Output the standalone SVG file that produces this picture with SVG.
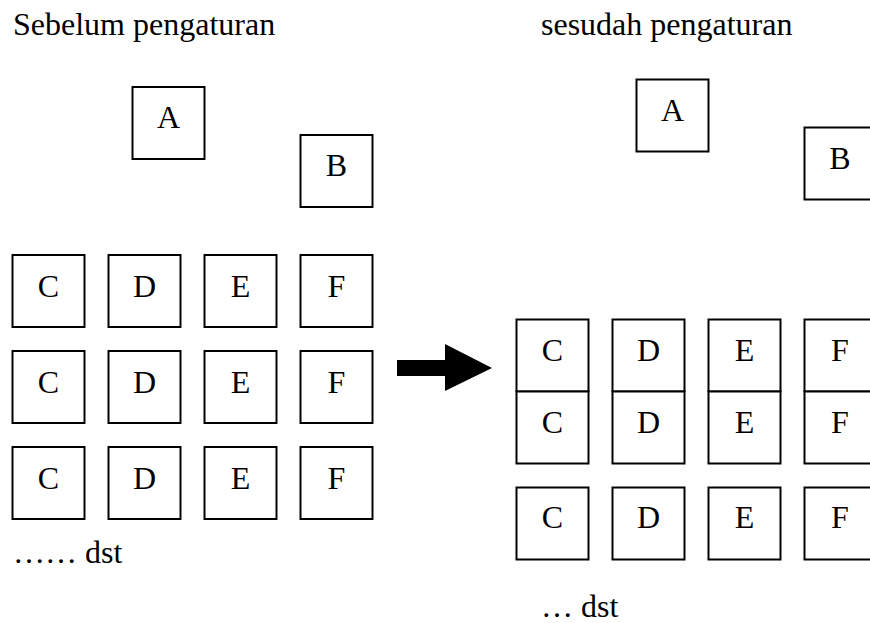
<svg xmlns="http://www.w3.org/2000/svg" width="870" height="623" viewBox="0 0 870 623">
  <style>
    .box { fill: #ffffff; stroke: #000000; stroke-width: 2; }
    .lbl { font-family: 'Liberation Serif', 'Times New Roman', serif; font-size: 32px; fill: #000000; }
    .mid { text-anchor: middle; }
  </style>
  <defs>
    <g id="cell"><rect class="box" x="0" y="0" width="72" height="72"/></g>
  </defs>
  <rect width="870" height="623" fill="#ffffff"/>

  <!-- headings -->
  <text class="lbl" x="13" y="35">Sebelum pengaturan</text>
  <text class="lbl" x="541" y="35">sesudah pengaturan</text>

  <!-- left layout -->
  <g id="left-A"><use href="#cell" x="132.5" y="87"/><text class="lbl mid" x="168.5" y="128">A</text></g>
  <g id="left-B"><use href="#cell" x="300.5" y="135"/><text class="lbl mid" x="336.5" y="176">B</text></g>

  <g id="left-C1"><use href="#cell" x="12.5" y="255"/><text class="lbl mid" x="48.5" y="297">C</text></g>
  <g id="left-D1"><use href="#cell" x="108.5" y="255"/><text class="lbl mid" x="144.5" y="297">D</text></g>
  <g id="left-E1"><use href="#cell" x="204.5" y="255"/><text class="lbl mid" x="240.5" y="297">E</text></g>
  <g id="left-F1"><use href="#cell" x="300.5" y="255"/><text class="lbl mid" x="336.5" y="297">F</text></g>

  <g id="left-C2"><use href="#cell" x="12.5" y="351"/><text class="lbl mid" x="48.5" y="393">C</text></g>
  <g id="left-D2"><use href="#cell" x="108.5" y="351"/><text class="lbl mid" x="144.5" y="393">D</text></g>
  <g id="left-E2"><use href="#cell" x="204.5" y="351"/><text class="lbl mid" x="240.5" y="393">E</text></g>
  <g id="left-F2"><use href="#cell" x="300.5" y="351"/><text class="lbl mid" x="336.5" y="393">F</text></g>

  <g id="left-C3"><use href="#cell" x="12.5" y="447"/><text class="lbl mid" x="48.5" y="489">C</text></g>
  <g id="left-D3"><use href="#cell" x="108.5" y="447"/><text class="lbl mid" x="144.5" y="489">D</text></g>
  <g id="left-E3"><use href="#cell" x="204.5" y="447"/><text class="lbl mid" x="240.5" y="489">E</text></g>
  <g id="left-F3"><use href="#cell" x="300.5" y="447"/><text class="lbl mid" x="336.5" y="489">F</text></g>

  <text class="lbl" x="13" y="563">…… dst</text>

  <!-- transition arrow -->
  <g id="connectors">
    <polygon points="397,360 445,360 445,344 492,368 445,391 445,376 397,376" fill="#000000"/>
  </g>

  <!-- right layout -->
  <g id="right-A"><use href="#cell" x="636.5" y="79.5"/><text class="lbl mid" x="672.5" y="121">A</text></g>
  <g id="right-B"><use href="#cell" x="804.5" y="127.5"/><text class="lbl mid" x="840" y="169">B</text></g>

  <g id="right-C1"><use href="#cell" x="516.5" y="319.5"/><text class="lbl mid" x="552.5" y="361">C</text></g>
  <g id="right-D1"><use href="#cell" x="612.5" y="319.5"/><text class="lbl mid" x="648.5" y="361">D</text></g>
  <g id="right-E1"><use href="#cell" x="708.5" y="319.5"/><text class="lbl mid" x="744.5" y="361">E</text></g>
  <g id="right-F1"><use href="#cell" x="804.5" y="319.5"/><text class="lbl mid" x="840" y="361">F</text></g>

  <g id="right-C2"><use href="#cell" x="516.5" y="391.5"/><text class="lbl mid" x="552.5" y="433">C</text></g>
  <g id="right-D2"><use href="#cell" x="612.5" y="391.5"/><text class="lbl mid" x="648.5" y="433">D</text></g>
  <g id="right-E2"><use href="#cell" x="708.5" y="391.5"/><text class="lbl mid" x="744.5" y="433">E</text></g>
  <g id="right-F2"><use href="#cell" x="804.5" y="391.5"/><text class="lbl mid" x="840" y="433">F</text></g>

  <g id="right-C3"><use href="#cell" x="516.5" y="487.5"/><text class="lbl mid" x="552.5" y="528">C</text></g>
  <g id="right-D3"><use href="#cell" x="612.5" y="487.5"/><text class="lbl mid" x="648.5" y="528">D</text></g>
  <g id="right-E3"><use href="#cell" x="708.5" y="487.5"/><text class="lbl mid" x="744.5" y="528">E</text></g>
  <g id="right-F3"><use href="#cell" x="804.5" y="487.5"/><text class="lbl mid" x="840" y="528">F</text></g>

  <text class="lbl" x="541" y="617">… dst</text>
</svg>
